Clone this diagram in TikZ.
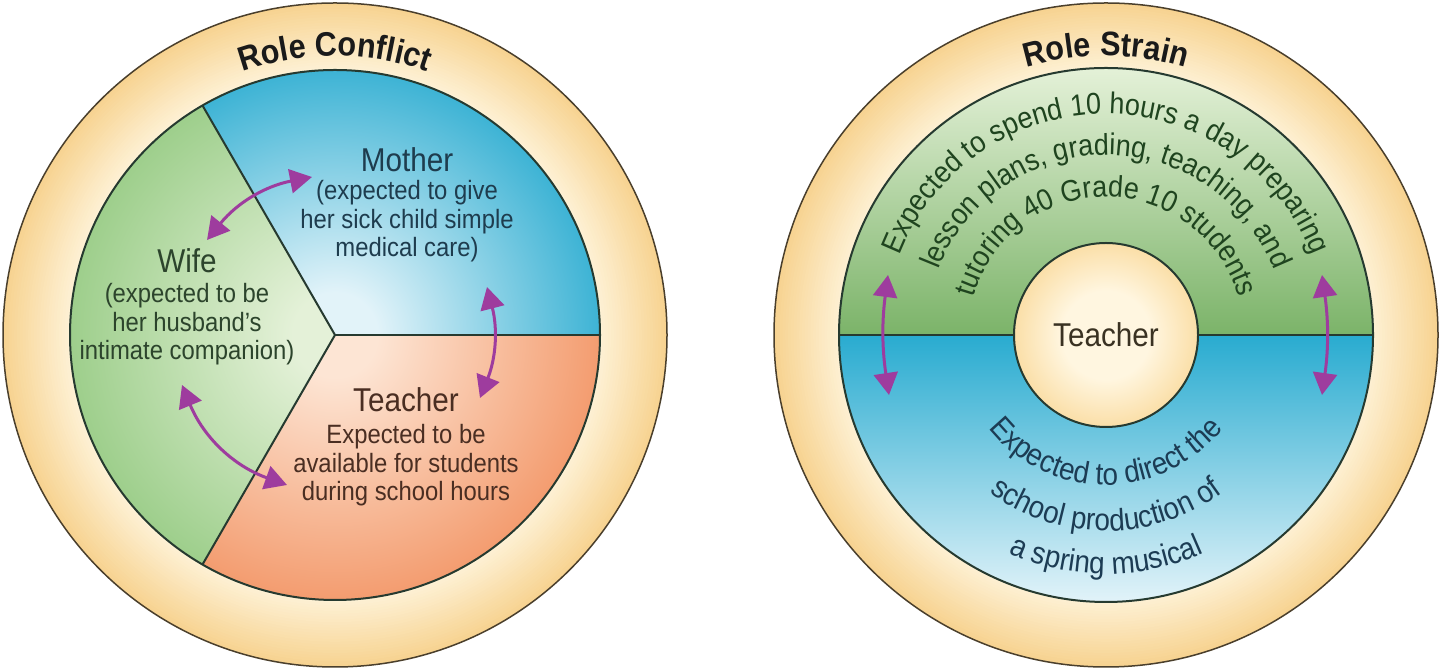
\documentclass[tikz,border=0pt]{standalone}
\usepackage{fontspec}
\setmainfont{Liberation Sans}[FakeStretch=0.9]
\usepackage{xcolor}
\usetikzlibrary{arrows.meta, positioning, decorations.text}

\definecolor{ringlt}{HTML}{FEF2D7}
\definecolor{ringdk}{HTML}{F7D391}
\definecolor{grnlt}{HTML}{E4F1D8}
\definecolor{grndk}{HTML}{86C372}
\definecolor{blult}{HTML}{E2F3F9}
\definecolor{bludk}{HTML}{16A4CC}
\definecolor{orglt}{HTML}{FDE5D4}
\definecolor{orgdk}{HTML}{F0844E}
\definecolor{hublt}{HTML}{FFF6E0}
\definecolor{hubdk}{HTML}{F7CB78}
\definecolor{edgecol}{HTML}{263A30}
\definecolor{rimcol}{HTML}{4A3F2C}
\definecolor{arrowcol}{HTML}{9E3C9E}
\definecolor{titlecol}{HTML}{1A1A1A}
\definecolor{motxt}{HTML}{1E3C4E}
\definecolor{wftxt}{HTML}{2C442C}
\definecolor{tctxt}{HTML}{4A2E22}
\definecolor{hubtxt}{HTML}{3A3222}
\definecolor{grntxt}{HTML}{1F441F}
\definecolor{blutxt}{HTML}{1C3C54}

\pgfdeclareradialshading{greenshade}{\pgfpoint{0bp}{0bp}}{color(0bp)=(grnlt); color(4bp)=(grnlt); color(32bp)=(grndk); color(60bp)=(grndk)}
\pgfdeclareradialshading{blueshade}{\pgfpoint{0bp}{0bp}}{color(0bp)=(blult); color(4bp)=(blult); color(30bp)=(bludk); color(60bp)=(bludk)}
\pgfdeclareradialshading{orangeshade}{\pgfpoint{0bp}{0bp}}{color(0bp)=(orglt); color(4bp)=(orglt); color(32bp)=(orgdk); color(60bp)=(orgdk)}
\pgfdeclareradialshading{hubshade}{\pgfpoint{0bp}{0bp}}{color(0bp)=(hublt); color(12bp)=(hublt); color(36bp)=(hubdk); color(60bp)=(hubdk)}

\newcommand{\headfont}{\fontsize{33}{36}\selectfont}
\newcommand{\bodyfont}{\fontsize{26.5}{28.5}\selectfont}
\newcommand{\arcfont}{\fontsize{30}{30}\selectfont}
\newcommand{\lowfont}{\fontsize{31}{31}\selectfont}
\newcommand{\titlefont}{\bfseries\fontsize{34}{34}\selectfont}

\begin{document}
\begin{tikzpicture}[
    x=1pt, y=1pt,
    edge/.style={draw=edgecol, line width=2pt},
    rim/.style={draw=rimcol, line width=1.5pt},
    head/.style={inner sep=0pt, font=\headfont, anchor=base},
    body/.style={inner sep=0pt, font=\bodyfont, align=center},
    hub/.style={circle, minimum size=184pt, inner sep=0pt, shade, shading=hubshade,
                draw=edgecol, line width=2pt, font=\headfont, text=hubtxt},
    arr/.style={{Triangle[length=22pt,width=24pt]}-{Triangle[length=22pt,width=24pt]},
                line width=3pt, draw=arrowcol},
    curved/.style={decorate, decoration={text along path, text align=center, text={#1}}},
]
    \useasboundingbox[fill=white] (0,0) rectangle (1440,671);

    \coordinate (lc) at (335,336);
    \coordinate (rc) at (1106,336);

    % Outer rings, light towards the inside
    \foreach \k [evaluate=\k as \pc using 100-\k*100/24,
                 evaluate=\k as \rr using 332-\k*2.8] in {0,...,24} {
        \fill[ringdk!\pc!ringlt] (lc) circle (\rr);
        \fill[ringdk!\pc!ringlt] (rc) circle (\rr);
    }
    \draw[rim] (lc) circle (332);
    \draw[rim] (rc) circle (332);

    % Role conflict: sectors
    \begin{scope}
        \clip (lc) -- ++(120:265) arc (120:240:265) -- cycle;
        \shade[shading=greenshade] (lc) circle (265);
    \end{scope}
    \begin{scope}
        \clip (lc) -- ++(0:265) arc (0:120:265) -- cycle;
        \shade[shading=blueshade] (lc) circle (265);
    \end{scope}
    \begin{scope}
        \clip (lc) -- ++(240:265) arc (240:360:265) -- cycle;
        \shade[shading=orangeshade] (lc) circle (265);
    \end{scope}
    \draw[edge] (lc) circle (265);
    \draw[edge] (lc) -- ++(0:265);
    \draw[edge] (lc) -- ++(120:265);
    \draw[edge] (lc) -- ++(240:265);

    \path[curved={|\titlefont\color{titlecol}|Role Conflict}]
        ([shift={(160:279)}]lc) arc (160:20:279);

    % Roles
    \node[head, text=motxt] (mother) at (407,499) {Mother};
    \node[body, text=motxt, below=8pt of mother] (motherTxt)
        {(expected to give\\her sick child simple\\medical care)};

    \node[head, text=wftxt] (wife) at (187,398) {Wife};
    \node[body, text=wftxt, below=10pt of wife] (wifeTxt)
        {(expected to be\\her husband's\\intimate companion)};

    \node[head, text=tctxt] (teacher) at (406,259) {Teacher};
    \node[body, text=tctxt, below=12pt of teacher] (teacherTxt)
        {Expected to be\\available for students\\during school hours};

    % Arrows
    \coordinate (wm1) at (207,431);
    \coordinate (wm2) at (312,494);
    \coordinate (mt1) at (487,384);
    \coordinate (mt2) at (480,273);
    \coordinate (wt1) at (182,286);
    \coordinate (wt2) at (287,186);
    \draw[arr] (wm1) to[bend left=20] (wm2);
    \draw[arr] (mt1) to[bend left=18] (mt2);
    \draw[arr] (wt1) to[bend right=24] (wt2);

    % Role strain: halves
    \shade[top color=grnlt, bottom color=grndk!92!black]
        ([shift={(0:267)}]rc) arc (0:180:267) -- cycle;
    \shade[top color=bludk!92!white, bottom color=blult]
        ([shift={(180:267)}]rc) arc (180:360:267) -- cycle;
    \draw[edge] (rc) circle (267);
    \draw[edge] ([shift={(180:267)}]rc) -- ([shift={(0:267)}]rc);

    \path[curved={|\titlefont\color{titlecol}|Role Strain}]
        ([shift={(160:279)}]rc) arc (160:20:279);

    % Demands
    \path[curved={|\arcfont\color{grntxt}|Expected to spend 10 hours a day preparing}]
        ([shift={(178:221)}]rc) arc (178:2:221);
    \path[curved={|\arcfont\color{grntxt}|lesson plans, grading, teaching, and}]
        ([shift={(178:180)}]rc) arc (178:2:180);
    \path[curved={|\arcfont\color{grntxt}|tutoring 40 Grade 10 students}]
        ([shift={(178:138)}]rc) arc (178:2:138);

    \path[curved={|\lowfont\color{blutxt}|Expected to direct the}]
        ([shift={(185:150)}]rc) arc (185:355:150);
    \path[curved={|\lowfont\color{blutxt}|school production of}]
        ([shift={(185:196)}]rc) arc (185:355:196);
    \path[curved={|\lowfont\color{blutxt}|a spring musical}]
        ([shift={(185:239)}]rc) arc (185:355:239);

    % Teacher
    \node[hub] (hubT) at (rc) {Teacher};

    % Arrows
    \coordinate (ls1) at (888,396);
    \coordinate (ls2) at (889,276);
    \coordinate (rs1) at (1322,396);
    \coordinate (rs2) at (1322,276);
    \draw[arr] (ls1) to[bend right=8] (ls2);
    \draw[arr] (rs1) to[bend left=8] (rs2);
\end{tikzpicture}
\end{document}
